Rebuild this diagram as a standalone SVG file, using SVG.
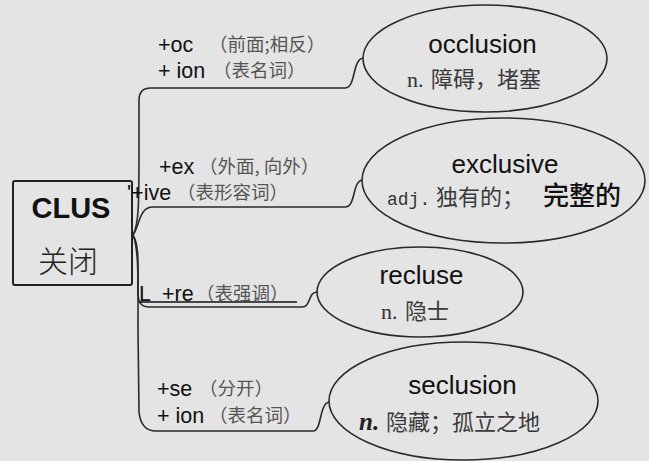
<svg xmlns="http://www.w3.org/2000/svg" width="649" height="461" viewBox="0 0 649 461">
<style>
.bg{fill:#e4e4e4}
.con{fill:none;stroke:#2a2a2a;stroke-width:1.6;stroke-linecap:round}
.oval{fill:#e4e4e4;stroke:#2a2a2a;stroke-width:1.6}
.lat{font-family:"Liberation Sans",Arial,sans-serif;font-size:21.5px;fill:#111}
.note{font-family:"Noto Sans CJK SC","Noto Sans CJK JP",sans-serif;font-size:18.5px;fill:#555;font-weight:400}
.title{font-family:"Liberation Sans",Arial,sans-serif;font-size:26px;fill:#111;text-anchor:middle}
.ser{font-family:"Liberation Serif","Times New Roman",serif;font-size:22px;fill:#333}
.cjk{font-family:"Noto Sans CJK SC","Noto Sans CJK JP",sans-serif;font-size:22px;fill:#3a3a3a;font-weight:400}
</style>
<rect class="bg" x="0" y="0" width="649" height="461"/>
<g id="connectors">
<path class="con" d="M133 235 C139 225 139 200 139 150 L139 100 Q139 88 151 88 L345 88 C356 88 352 60 363 58"/>
<path class="con" d="M133 235 C140 225 139 207 153 207 L345 207 C356 207 352 182 362 180"/>
<path class="con" d="M133 235 C139 245 138 262 138 285 L138 296 Q139 307 149 307 L302 307 C311 307 308 292 317 292"/>
<path class="con" d="M133 235 C139 250 138 280 138 330 L139 412 Q141 431 156 431 L313 431 C322 431 319 404 329 402"/>
<line x1="139" y1="302" x2="297" y2="302" stroke="#111" stroke-width="1.4"/>
</g>
<g id="root">
<rect x="13" y="181" width="119" height="104" rx="2" fill="none" stroke="#222" stroke-width="2"/>
<text x="71" y="218" text-anchor="middle" font-family="Liberation Sans,Arial,sans-serif" font-weight="bold" font-size="29" fill="#111">CLUS</text>
<text x="68" y="272" text-anchor="middle" font-family="Noto Sans CJK SC,Noto Sans CJK JP,sans-serif" font-weight="300" font-size="30" fill="#222">关闭</text>
</g>
<g id="label-oc">
<text class="lat" x="158" y="52">+oc</text><text class="note" x="209" y="51">（前面;相反）</text>
<text class="lat" x="158" y="78">+ ion</text><text class="note" x="213" y="77">（表名词）</text>
</g>
<g id="label-ex">
<text class="lat" x="159" y="174">+ex</text><text class="note" x="199" y="173">（外面, 向外）</text>
<text class="lat" x="127" y="200">'+ive</text><text class="note" x="177" y="199">（表形容词）</text>
</g>
<g id="label-re">
<text class="lat" x="139" y="301">L</text><text class="lat" x="162" y="301">+re</text><text class="note" x="196" y="300">（表强调）</text>
</g>
<g id="label-se">
<text class="lat" x="157" y="396">+se</text><text class="note" x="199" y="395">（分开）</text>
<text class="lat" x="157" y="423">+ ion</text><text class="note" x="209" y="422">（表名词）</text>
</g>
<g id="occlusion">
<ellipse class="oval" cx="485" cy="58.5" rx="122" ry="53.5"/>
<text class="title" x="482.5" y="53">occlusion</text>
<text x="407" y="87"><tspan class="ser">n.</tspan><tspan class="cjk" x="431" font-size="23">障碍，堵塞</tspan></text>
</g>
<g id="exclusive">
<ellipse class="oval" cx="503.5" cy="180.5" rx="141.5" ry="62.5"/>
<text class="title" x="505" y="173">exclusive</text>
<text x="387" y="205"><tspan font-family="Liberation Mono,Courier New,monospace" font-size="18" fill="#333">adj.</tspan><tspan class="cjk" x="436" font-size="20">独有的；</tspan><tspan x="543" font-family="Noto Sans CJK SC,Noto Sans CJK JP,sans-serif" font-size="26" font-weight="500" fill="#111">完整的</tspan></text>
</g>
<g id="recluse">
<ellipse class="oval" cx="420" cy="292" rx="103" ry="45"/>
<text class="title" x="421.5" y="284">recluse</text>
<text x="381" y="319"><tspan class="ser">n.</tspan><tspan class="cjk" x="405">隐士</tspan></text>
</g>
<g id="seclusion">
<ellipse class="oval" cx="463.5" cy="401" rx="134.5" ry="59"/>
<text class="title" x="462.5" y="394">seclusion</text>
<text x="359" y="430"><tspan font-family="Liberation Serif,serif" font-style="italic" font-weight="bold" font-size="25" fill="#222">n.</tspan><tspan class="cjk" x="386" font-size="23.5">隐藏；孤立之地</tspan></text>
</g>
</svg>
